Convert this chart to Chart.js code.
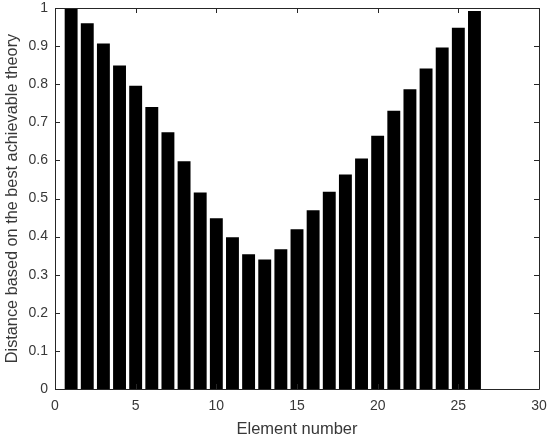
<!DOCTYPE html>
<html>
<head>
<meta charset="utf-8">
<script src="https://cdn.jsdelivr.net/npm/chart.js@4/dist/chart.umd.min.js"></script>
<style>
  html, body { margin: 0; padding: 0; background: #fff; }
  #wrap { width: 550px; height: 441px; }
</style>
</head>
<body>
<div id="wrap"><canvas id="myChart"></canvas></div>
<script>
// element numbers and their distance values
const elements = [1, 2, 3, 4, 5, 6, 7, 8, 9, 10, 11, 12, 13, 14, 15, 16, 17, 18, 19, 20, 21, 22, 23, 24, 25, 26];
const distance = [1.0, 0.96, 0.907, 0.849, 0.796, 0.740, 0.674, 0.598, 0.516, 0.448, 0.398, 0.354, 0.340,
                  0.367, 0.419, 0.469, 0.518, 0.563, 0.605, 0.665, 0.730, 0.787, 0.841, 0.896, 0.948, 0.992];
const xTicks = [0, 5, 10, 15, 20, 25, 30];
const yTicks = [0, 0.1, 0.2, 0.3, 0.4, 0.5, 0.6, 0.7, 0.8, 0.9, 1];

const axisColor = '#262626';
const textColor = '#383838';
const fontFamily = 'Liberation Sans, Arial, sans-serif';

// matlab-ish box with inward ticks on all four sides
const boxPlugin = {
    id: 'boxPlugin',
    afterDraw(chart) {
        const { ctx, chartArea: a, scales } = chart;
        const len = 5;
        ctx.save();
        ctx.strokeStyle = axisColor;
        ctx.lineWidth = 1;
        ctx.beginPath();
        ctx.rect(Math.round(a.left) + 0.5, Math.round(a.top) + 0.5,
                 Math.round(a.right - a.left), Math.round(a.bottom - a.top));
        xTicks.forEach(v => {
            const x = Math.round(scales.x.getPixelForValue(v)) + 0.5;
            ctx.moveTo(x, a.bottom); ctx.lineTo(x, a.bottom - len);
            ctx.moveTo(x, a.top); ctx.lineTo(x, a.top + len);
        });
        yTicks.forEach(v => {
            const y = Math.round(scales.y.getPixelForValue(v)) + 0.5;
            ctx.moveTo(a.left, y); ctx.lineTo(a.left + len, y);
            ctx.moveTo(a.right, y); ctx.lineTo(a.right - len, y);
        });
        ctx.stroke();
        ctx.restore();
    }
};

var ctx = document.getElementById('myChart').getContext('2d');
var chart = new Chart(ctx, {
    type: 'bar',
    data: {
        datasets: [{
            label: 'Distance',
            backgroundColor: '#000000',
            borderWidth: 0,
            barPercentage: 0.8,
            categoryPercentage: 1.0,
            data: elements.map((e, i) => ({ x: e, y: distance[i] }))
        }]
    },
    options: {
        responsive: true,
        maintainAspectRatio: false,
        animation: false,
        layout: { padding: { top: 8, right: 11, left: 0, bottom: 0 } },
        plugins: {
            legend: { display: false },
            tooltip: { enabled: false }
        },
        scales: {
            x: {
                type: 'linear',
                min: 0,
                max: 30,
                offset: false,
                afterBuildTicks: s => { s.ticks = xTicks.map(v => ({ value: v })); },
                afterFit: s => { s.height = 52; s.paddingLeft = 0; s.paddingRight = 0; },
                grid: { display: false, drawTicks: false },
                border: { display: false },
                ticks: {
                    color: textColor,
                    padding: 9,
                    maxRotation: 0,
                    font: { family: fontFamily, size: 14 }
                },
                title: {
                    display: true,
                    text: 'Element number',
                    color: textColor,
                    padding: { top: 0, bottom: 2 },
                    font: { family: fontFamily, size: 16.5 }
                }
            },
            y: {
                min: 0,
                max: 1,
                afterBuildTicks: s => { s.ticks = yTicks.map(v => ({ value: v })); },
                afterFit: s => { s.width = 55; s.paddingTop = 0; s.paddingBottom = 0; },
                grid: { display: false, drawTicks: false },
                border: { display: false },
                ticks: {
                    color: textColor,
                    padding: 7,
                    callback: v => String(v),
                    font: { family: fontFamily, size: 14 }
                },
                title: {
                    display: true,
                    text: 'Distance based on the best achievable theory',
                    color: textColor,
                    padding: { top: 3, bottom: 0 },
                    font: { family: fontFamily, size: 16.3 }
                }
            }
        }
    },
    plugins: [boxPlugin]
});
</script>
</body>
</html>
